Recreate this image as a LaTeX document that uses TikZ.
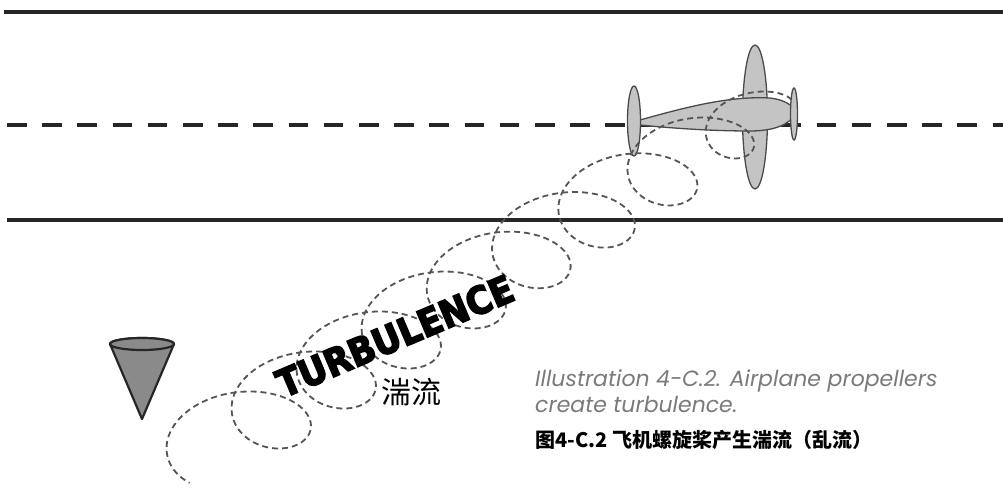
\documentclass[tikz,border=0pt]{standalone}
\usepackage{fontspec}
\usepackage{xcolor}
\usetikzlibrary{positioning}
\setmainfont{Poppins}
\newfontfamily\cjkfont{Noto Sans CJK SC}
\newfontfamily\heavyfont[FakeBold=4]{DejaVu Sans Condensed Bold}
\definecolor{lane}{HTML}{262626}
\definecolor{planegrey}{HTML}{C4C4C4}
\definecolor{conegrey}{HTML}{8A8A8A}
\definecolor{partline}{HTML}{4A4A4A}
\definecolor{swirlgrey}{HTML}{555555}
\definecolor{captiongrey}{HTML}{7A7A7A}

\begin{document}
\begin{tikzpicture}[x=1pt, y=-1pt,
road/.style = {line width=3.6pt, draw=lane},
centre/.style = {road, dash pattern=on 19.5pt off 15.7pt},
part/.style = {draw=partline, line width=1.3pt, fill=planegrey},
cone/.style = {draw=black!85, line width=2.2pt, fill=conegrey, line join=round},
swirl/.style = {draw=swirlgrey, line width=1.8pt, dash pattern=on 6pt off 4pt},
caption/.style = {text=captiongrey, font=\fontsize{22}{26}\selectfont\itshape, anchor=base west, inner sep=0pt}]
\useasboundingbox (0,0) rectangle (1003,493);

% road edges and centre line
\draw[road] (4,12) -- (1003,12);
\draw[road] (7,220) -- (1003,220);
\draw[centre] (7,125) -- (1003,125);

% windsock
\draw[cone] (110,344) -- (142,419) -- (174,344) arc[start angle=0, end angle=-180, x radius=32, y radius=6] -- cycle;
\draw[cone] (142,344) ellipse[x radius=32, y radius=6];

% airplane
\draw[part] (755,117) ellipse[x radius=12.5, y radius=72];
\draw[part] (640,120) .. controls (690,106) and (730,96) .. (770,98)
  .. controls (788,100) and (797,109) .. (795,114)
  .. controls (790,124) and (775,131) .. (750,131)
  .. controls (710,131) and (670,128) .. (640,125) -- cycle;
\draw[part] (634,121) ellipse[x radius=6.5, y radius=35];
\draw[part] (794,114) ellipse[x radius=3.5, y radius=26];

% prop wash, \t counts turns, loops widen behind the plane
\draw[swirl] plot[domain=0:8.7, samples=720, variable=\t]
  ({775-65*\t+55*(1-0.7*exp(-1.2*\t))*cos(360*\t)},
   {100+40*\t-38*(1-0.7*exp(-1.2*\t))*sin(360*\t)});

\node[rotate=23, inner sep=0pt] (turb) at (395,336) {\heavyfont\fontsize{38}{38}\selectfont TURBULENCE};
\node[inner sep=0pt, anchor=base] (zh) at (411,403) {\cjkfont\fontsize{30}{30}\selectfont 湍流};

\node[caption] (capA) at (535,386) {Illustration 4-C.2. Airplane propellers};
\node[caption] (capB) at (535,412) {create turbulence.};
\node[anchor=base west, inner sep=0pt] (capC) at (535,447) {\cjkfont\bfseries\fontsize{20}{20}\selectfont 图4-C.2 飞机螺旋桨产生湍流（乱流）};
\end{tikzpicture}
\end{document}
